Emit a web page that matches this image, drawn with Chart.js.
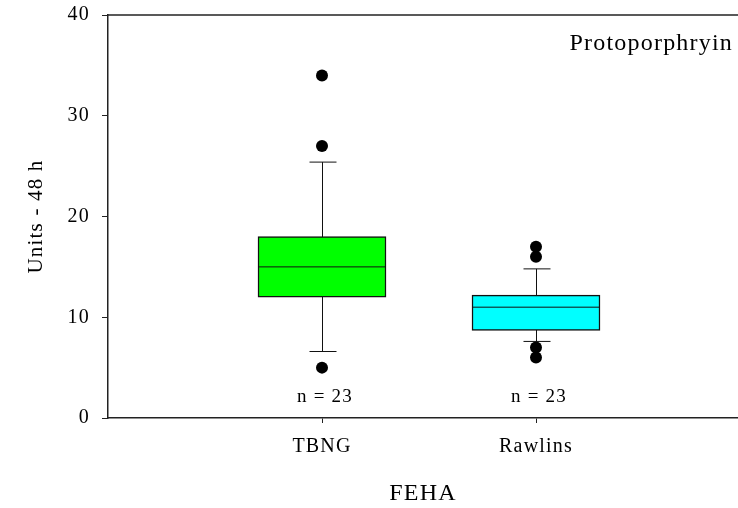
<!DOCTYPE html>
<html>
<head>
<meta charset="utf-8">
<script src="https://cdn.jsdelivr.net/npm/chart.js@4.4.0/dist/chart.umd.min.js"></script>
<style>
  html, body { margin: 0; padding: 0; background: #fff; overflow: hidden; }
  /* a few px wider than the window so the frame runs off the right edge like the original */
  #wrap { width: 744px; height: 508px; }
</style>
</head>
<body>
<div id="wrap"><canvas id="box"></canvas></div>
<script>
// values
const categories = ['TBNG', 'Rawlins'];
const q1 = [12.0, 8.7];
const medians = [15.0, 11.0];
const q3 = [18.0, 12.2];
const whiskerLow = [6.6, 7.6];
const whiskerHigh = [25.4, 14.8];
const outliers = [[34, 27, 5], [17, 16, 7, 6]];
const counts = [23, 23];
const boxColors = ['#00ff00', '#00ffff'];
const yTickValues = [0, 10, 20, 30, 40];

const serif = "'Liberation Serif', 'Times New Roman', serif";
Chart.defaults.font.family = serif;
Chart.defaults.color = '#000';

// the original type is a little spread out
const spacing = {
  id: 'spacing',
  beforeUpdate(chart) { chart.ctx.letterSpacing = '1.2px'; },
  beforeDraw(chart) { chart.ctx.letterSpacing = '1.2px'; }
};

// whiskers, caps, medians, n labels, top frame
const boxExtras = {
  id: 'boxExtras',
  beforeDatasetsDraw(chart) {
    const {ctx, scales: {x, y}} = chart;
    ctx.save();
    ctx.strokeStyle = '#111';
    ctx.lineWidth = 1;
    categories.forEach((c, i) => {
      const px = Math.round(x.getPixelForValue(i + 1)) + 0.5;
      const hi = y.getPixelForValue(whiskerHigh[i]);
      const lo = y.getPixelForValue(whiskerLow[i]);
      ctx.beginPath();
      ctx.moveTo(px, hi);
      ctx.lineTo(px, lo);
      ctx.moveTo(px - 13, hi);
      ctx.lineTo(px + 14, hi);
      ctx.moveTo(px - 13, lo);
      ctx.lineTo(px + 14, lo);
      ctx.stroke();
    });
    ctx.restore();
  },
  afterDatasetsDraw(chart) {
    const {ctx, scales: {x, y}, chartArea} = chart;
    const bars = chart.getDatasetMeta(1).data;
    ctx.save();
    ctx.strokeStyle = '#111';
    ctx.lineWidth = 1;
    categories.forEach((c, i) => {
      const bar = bars[i];
      const half = bar.width / 2;
      const my = y.getPixelForValue(medians[i]);
      ctx.beginPath();
      ctx.moveTo(bar.x - half, my);
      ctx.lineTo(bar.x + half, my);
      ctx.stroke();
    });
    ctx.font = '19px ' + serif;
    ctx.fillStyle = '#000';
    ctx.textAlign = 'center';
    ctx.textBaseline = 'middle';
    categories.forEach((c, i) => {
      ctx.fillText('n = ' + counts[i], x.getPixelForValue(i + 1) + 3, chartArea.bottom - 21);
    });
    // top frame line
    ctx.strokeStyle = '#222';
    ctx.lineWidth = 1.5;
    ctx.beginPath();
    ctx.moveTo(chartArea.left, chartArea.top);
    ctx.lineTo(chartArea.right, chartArea.top);
    ctx.stroke();
    // label
    ctx.font = '24px ' + serif;
    ctx.textAlign = 'right';
    ctx.fillText('Protoporphryin', chartArea.right - 5, chartArea.top + 29);
    ctx.restore();
  }
};

const outlierPoints = [];
outliers.forEach((arr, i) => arr.forEach(v => outlierPoints.push({x: i + 1, y: v})));

new Chart(document.getElementById('box'), {
  data: {
    datasets: [
      {
        type: 'scatter',
        data: outlierPoints,
        backgroundColor: '#000',
        borderColor: '#000',
        pointRadius: 6,
        borderWidth: 0
      },
      {
        type: 'bar',
        data: categories.map((c, i) => ({x: i + 1, y: [q1[i], q3[i]]})),
        backgroundColor: boxColors,
        borderColor: '#111',
        borderWidth: 1.5,
        borderSkipped: false,
        barThickness: 128
      }
    ]
  },
  options: {
    responsive: true,
    maintainAspectRatio: false,
    animation: false,
    layout: { padding: { top: 15, right: 0, left: 0, bottom: 0 } },
    plugins: { legend: { display: false }, tooltip: { enabled: false } },
    scales: {
      x: {
        type: 'linear',
        offset: false,
        min: 0,
        max: 630 / 214,
        afterBuildTicks: scale => { scale.ticks = categories.map((c, i) => ({value: i + 1})); },
        afterFit: scale => { scale.height = 90; scale.paddingLeft = 0; scale.paddingRight = 0; },
        ticks: {
          autoSkip: false,
          maxRotation: 0,
          padding: 12,
          font: { size: 20 },
          callback: v => categories[v - 1]
        },
        grid: { offset: false, drawOnChartArea: false, tickLength: 5, color: '#222' },
        border: { color: '#222', width: 1.5 },
        title: { display: true, text: 'FEHA', font: { size: 24 }, padding: { top: 0, bottom: 0 } }
      },
      y: {
        min: 0,
        max: 40,
        afterBuildTicks: scale => { scale.ticks = yTickValues.map(v => ({value: v})); },
        afterFit: scale => { scale.width = 108; scale.paddingTop = 0; scale.paddingBottom = 0; },
        ticks: { padding: 12, font: { size: 20 } },
        grid: { drawOnChartArea: false, tickLength: 6, color: '#222' },
        border: { color: '#222', width: 1.5 },
        title: { display: true, text: 'Units - 48 h', font: { size: 21 }, padding: { top: 24, bottom: 0 } }
      }
    }
  },
  plugins: [spacing, boxExtras]
});
</script>
</body>
</html>
